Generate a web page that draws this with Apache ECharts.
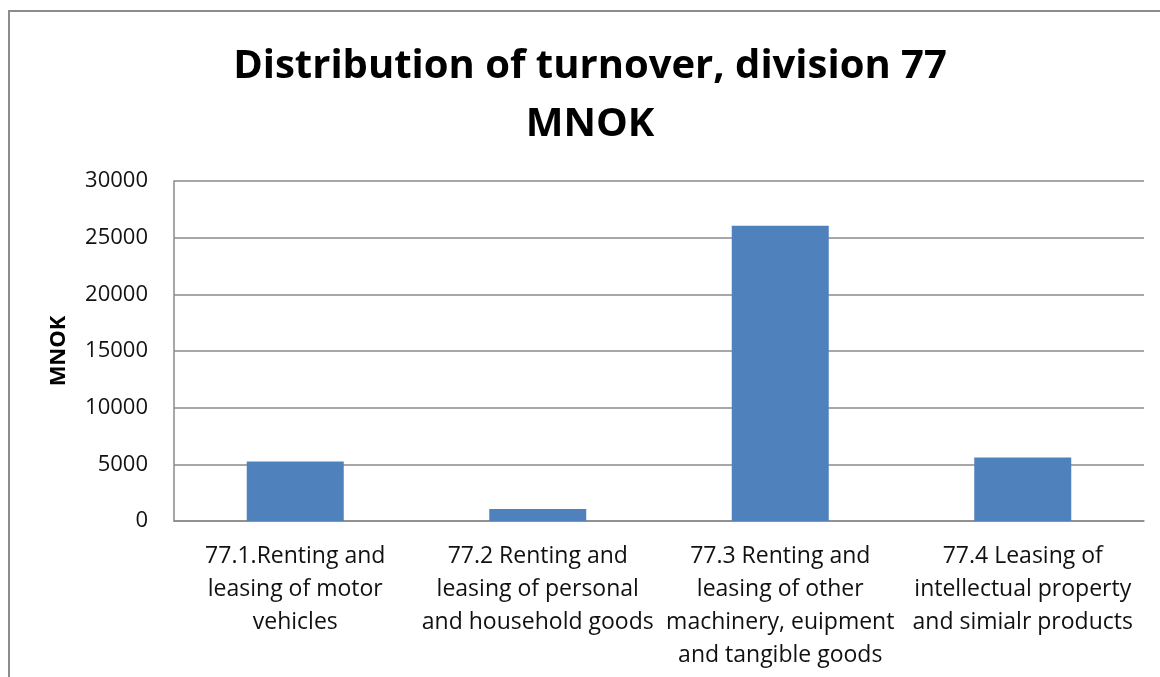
<!DOCTYPE html>
<html>
<head>
<meta charset="utf-8">
<script src="https://cdn.jsdelivr.net/npm/echarts@6/dist/echarts.min.js"></script>
<style>
  html, body { margin: 0; padding: 0; background: #fff; }
  #chart { width: 1160px; height: 677px; }
</style>
</head>
<body>
<div id="chart"></div>
<script>
// 数据
const categories = [
  '77.1.Renting and\nleasing of motor\nvehicles',
  '77.2 Renting and\nleasing of personal\nand household goods',
  '77.3 Renting and\nleasing of other\nmachinery, euipment\nand tangible goods',
  '77.4 Leasing of\nintellectual property\nand simialr products'
];
const turnover = [5250, 1050, 26050, 5600];
const yTicks = [0, 5000, 10000, 15000, 20000, 25000, 30000];

const chart = echarts.init(document.getElementById('chart'));
const option = {
  animation: false,
  // 外框
  graphic: [{
    type: 'rect',
    shape: { x: 9, y: 11, width: 1200, height: 800 },
    style: { fill: 'none', stroke: '#8c8c8c', lineWidth: 2 },
    silent: true
  }],
  title: {
    text: 'Distribution of turnover, division 77\nMNOK',
    left: 585,
    top: 33,
    textAlign: 'center',
    textStyle: {
      fontFamily: 'Open Sans',
      fontWeight: 'bold',
      fontSize: 40,
      lineHeight: 58,
      color: '#000'
    }
  },
  grid: {
    left: 174,
    right: 16,
    top: 181,
    bottom: 156,
    containLabel: false
  },
  xAxis: {
    type: 'category',
    data: categories,
    axisTick: { show: false },
    axisLine: { lineStyle: { color: '#8a8a8a', width: 1.5 } },
    axisLabel: {
      interval: 0,
      margin: 19,
      color: '#111',
      fontFamily: 'Open Sans',
      fontSize: 23,
      lineHeight: 33,
      align: 'center',
      overflow: 'none'
    }
  },
  yAxis: {
    type: 'value',
    min: yTicks[0],
    max: yTicks[yTicks.length - 1],
    interval: yTicks[1] - yTicks[0],
    name: 'MNOK',
    nameLocation: 'middle',
    nameGap: 104,
    nameTextStyle: {
      fontFamily: 'Open Sans',
      fontWeight: 'bold',
      fontSize: 22,
      color: '#000'
    },
    axisLine: { show: true, lineStyle: { color: '#8a8a8a', width: 1.5 } },
    axisTick: { show: false },
    splitLine: { lineStyle: { color: '#8a8a8a', width: 1.5 } },
    axisLabel: {
      margin: 26,
      color: '#111',
      fontFamily: 'Open Sans',
      fontSize: 22,
      formatter: function (v) { return String(v); }
    }
  },
  series: [{
    type: 'bar',
    data: turnover,
    barWidth: '40%',
    itemStyle: { color: '#4F81BD' }
  }]
};
chart.setOption(option);
</script>
</body>
</html>
